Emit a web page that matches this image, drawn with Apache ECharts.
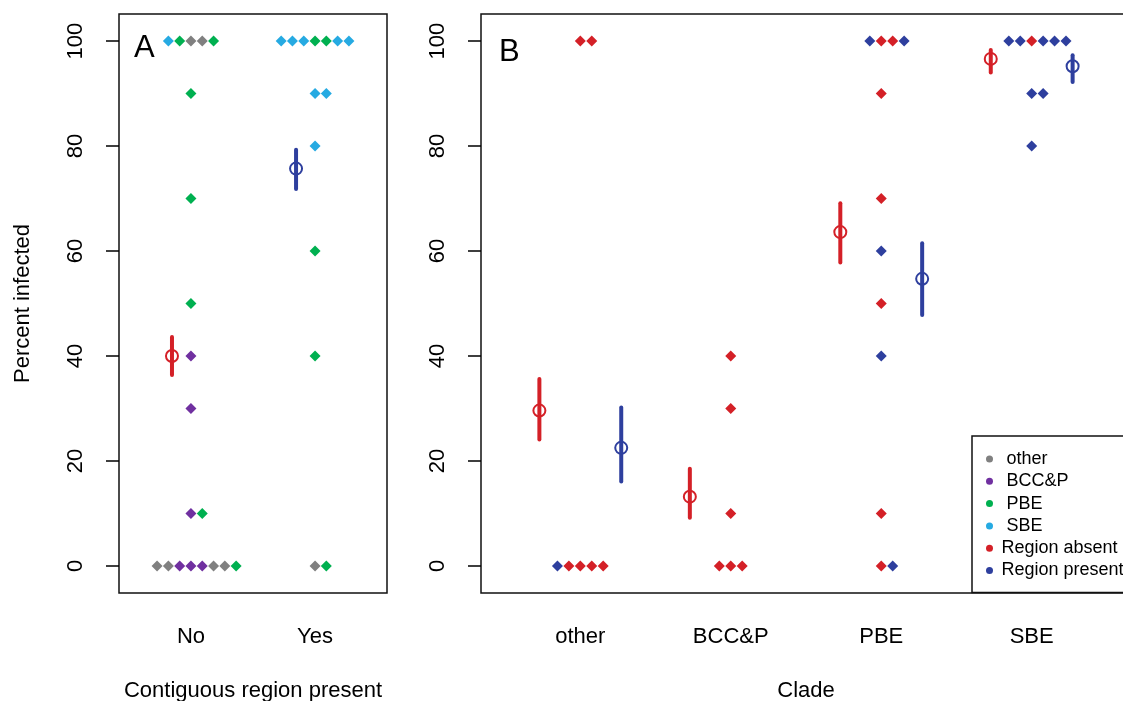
<!DOCTYPE html>
<html>
<head>
<meta charset="utf-8">
<script src="https://cdn.jsdelivr.net/npm/echarts@6/dist/echarts.min.js"></script>
<style>
  html, body { margin: 0; padding: 0; background: #fff; }
  #chart { width: 1123px; height: 701px; }
</style>
</head>
<body>
<div id="chart"></div>
<script>
// categories
var groupsA = ['No', 'Yes'];
var cladesB = ['other', 'BCC&P', 'PBE', 'SBE'];
var yTicks = [0, 20, 40, 60, 80, 100];

// panel A points: [group, percent, clades from left to right in the row]
var rowsA = [
  ['No', 100, ['SBE', 'PBE', 'other', 'other', 'PBE']],
  ['No', 90, ['PBE']],
  ['No', 70, ['PBE']],
  ['No', 50, ['PBE']],
  ['No', 40, ['BCC&P']],
  ['No', 30, ['BCC&P']],
  ['No', 10, ['BCC&P', 'PBE']],
  ['No', 0, ['other', 'other', 'BCC&P', 'BCC&P', 'BCC&P', 'other', 'other', 'PBE']],
  ['Yes', 100, ['SBE', 'SBE', 'SBE', 'PBE', 'PBE', 'SBE', 'SBE']],
  ['Yes', 90, ['SBE', 'SBE']],
  ['Yes', 80, ['SBE']],
  ['Yes', 60, ['PBE']],
  ['Yes', 40, ['PBE']],
  ['Yes', 0, ['other', 'PBE']]
];

// panel B points: [clade, percent, region (a = absent, p = present) left to right]
var rowsB = [
  ['other', 100, ['a', 'a']],
  ['other', 0, ['p', 'a', 'a', 'a', 'a']],
  ['BCC&P', 40, ['a']],
  ['BCC&P', 30, ['a']],
  ['BCC&P', 10, ['a']],
  ['BCC&P', 0, ['a', 'a', 'a']],
  ['PBE', 100, ['p', 'a', 'a', 'p']],
  ['PBE', 90, ['a']],
  ['PBE', 70, ['a']],
  ['PBE', 60, ['p']],
  ['PBE', 50, ['a']],
  ['PBE', 40, ['p']],
  ['PBE', 10, ['a']],
  ['PBE', 0, ['a', 'p']],
  ['SBE', 100, ['p', 'p', 'a', 'p', 'p', 'p']],
  ['SBE', 90, ['p', 'p']],
  ['SBE', 80, ['p']]
];

// estimates with intervals (panel A: No = red, Yes = blue)
var meanNo = [40.0], lowNo = [36.4], highNo = [43.6];
var meanYes = [null, 75.7], lowYes = [null, 71.8], highYes = [null, 79.3];

var meanAbsent = [29.6, 13.2, 63.6, 96.6];
var lowAbsent = [24.1, 9.2, 57.8, 94.0];
var highAbsent = [35.6, 18.5, 69.1, 98.3];

var meanPresent = [22.5, null, 54.7, 95.2];
var lowPresent = [16.1, null, 47.8, 92.2];
var highPresent = [30.2, null, 61.5, 97.3];

var cladeColors = { 'other': '#808080', 'BCC&P': '#7030A0', 'PBE': '#00B050', 'SBE': '#26AAE2' };
var RED = '#D42027', BLUE = '#2E3F9E';
var FONT = 'Liberation Sans, Arial, sans-serif';

// stack the points of one row side by side (beeswarm-like)
function swarm(rows, cats, step) {
  var out = {};
  rows.forEach(function (r) {
    var xc = cats.indexOf(r[0]) + 1;
    var n = r[2].length;
    var start = -Math.floor((n - 1) / 2);
    r[2].forEach(function (k, i) {
      (out[k] = out[k] || []).push([xc + (start + i) * step, r[1]]);
    });
  });
  return out;
}

var ptsA = swarm(rowsA, groupsA, 0.091);
var ptsB = swarm(rowsB, cladesB, 0.076);

function meanData(means, shift) {
  var d = [];
  means.forEach(function (m, i) { if (m != null) d.push([i + 1 + shift, m]); });
  return d;
}
function barData(means, lows, highs, shift) {
  var d = [];
  means.forEach(function (m, i) { if (m != null) d.push([i + 1 + shift, lows[i], highs[i]]); });
  return d;
}

function errBar(color) {
  return function (params, api) {
    var p1 = api.coord([api.value(0), api.value(1)]);
    var p2 = api.coord([api.value(0), api.value(2)]);
    return {
      type: 'line',
      shape: { x1: p1[0], y1: p1[1], x2: p2[0], y2: p2[1] },
      style: { stroke: color, lineWidth: 4, lineCap: 'round' }
    };
  };
}

function yAxisFor(gi) {
  return {
    type: 'value', gridIndex: gi, min: -5.15, max: 105.15,
    axisLine: { show: false },
    splitLine: { show: false },
    axisTick: { show: true, length: 13, customValues: yTicks, lineStyle: { color: '#000', width: 1.5 } },
    axisLabel: { customValues: yTicks, rotate: 90, margin: 32, fontSize: 22, color: '#000', fontFamily: FONT }
  };
}

function xAxisFor(gi, cats, min, max, name) {
  return {
    type: 'value', gridIndex: gi, min: min, max: max,
    name: name, nameLocation: 'middle', nameGap: 87,
    nameTextStyle: { fontSize: 22, color: '#000', fontFamily: FONT },
    axisLine: { show: false },
    splitLine: { show: false },
    axisTick: { show: false },
    axisLabel: {
      customValues: cats.map(function (c, i) { return i + 1; }),
      formatter: function (v) { return cats[Math.round(v) - 1]; },
      margin: 33, fontSize: 22, color: '#000', fontFamily: FONT
    }
  };
}

var series = [];
['other', 'BCC&P', 'PBE', 'SBE'].forEach(function (k) {
  series.push({
    name: k, type: 'scatter', xAxisIndex: 0, yAxisIndex: 0,
    symbol: 'diamond', symbolSize: 11, itemStyle: { color: cladeColors[k], opacity: 1 },
    data: ptsA[k] || [], silent: true, z: 3
  });
});
series.push({
  name: 'Region absent', type: 'scatter', xAxisIndex: 1, yAxisIndex: 1,
  symbol: 'diamond', symbolSize: 11, itemStyle: { color: RED, opacity: 1 },
  data: ptsB['a'], silent: true, z: 3
});
series.push({
  name: 'Region present', type: 'scatter', xAxisIndex: 1, yAxisIndex: 1,
  symbol: 'diamond', symbolSize: 11, itemStyle: { color: BLUE, opacity: 1 },
  data: ptsB['p'], silent: true, z: 3
});

// error bars + open mean circles
function addMeans(xi, means, lows, highs, shift, color) {
  series.push({
    type: 'custom', xAxisIndex: xi, yAxisIndex: xi, silent: true, z: 4,
    renderItem: errBar(color), encode: { x: 0, y: [1, 2] },
    data: barData(means, lows, highs, shift)
  });
  series.push({
    type: 'scatter', xAxisIndex: xi, yAxisIndex: xi, silent: true, z: 5,
    symbol: 'circle', symbolSize: 12,
    itemStyle: { color: 'rgba(0,0,0,0)', borderColor: color, borderWidth: 2, opacity: 1 },
    data: meanData(means, shift)
  });
}
addMeans(0, meanNo, lowNo, highNo, -0.153, RED);
addMeans(0, meanYes, lowYes, highYes, -0.153, BLUE);
addMeans(1, meanAbsent, lowAbsent, highAbsent, -0.272, RED);
addMeans(1, meanPresent, lowPresent, highPresent, 0.272, BLUE);

var option = {
  backgroundColor: '#fff',
  animation: false,
  textStyle: { fontFamily: FONT },
  title: [
    { text: 'A', left: 129, top: 28, textStyle: { fontSize: 31, fontWeight: 'normal', color: '#000', fontFamily: FONT } },
    { text: 'B', left: 494, top: 32, textStyle: { fontSize: 31, fontWeight: 'normal', color: '#000', fontFamily: FONT } }
  ],
  grid: [
    { left: 119, top: 14, width: 268, height: 579, show: true, borderColor: '#111', borderWidth: 1.5, outerBoundsMode: 'none' },
    { left: 481, top: 14, width: 650, height: 579, show: true, borderColor: '#111', borderWidth: 1.5, outerBoundsMode: 'none' }
  ],
  xAxis: [
    xAxisFor(0, groupsA, 0.42, 2.58, 'Contiguous region present'),
    xAxisFor(1, cladesB, 0.34, 4.66, 'Clade')
  ],
  yAxis: [
    Object.assign(yAxisFor(0), {
      name: 'Percent infected', nameLocation: 'middle', nameGap: 85, nameRotate: 90,
      nameTextStyle: { fontSize: 22, color: '#000', fontFamily: FONT }
    }),
    yAxisFor(1)
  ],
  legend: {
    orient: 'vertical', left: 972, top: 436,
    data: ['other', 'BCC&P', 'PBE', 'SBE', 'Region absent', 'Region present'].map(function (n) {
      return { name: n, icon: 'circle' };
    }),
    formatter: function (n) { return n.indexOf('Region') === 0 ? n : ' ' + n; },
    itemWidth: 14, itemHeight: 7, itemGap: 4.3,
    padding: [14, 12, 13, 14],
    borderColor: '#111', borderWidth: 1.5,
    selectedMode: false,
    textStyle: { fontSize: 18, lineHeight: 18, color: '#000', fontFamily: FONT }
  },
  series: series
};

var chart = echarts.init(document.getElementById('chart'), null, { renderer: 'canvas' });
chart.setOption(option);
</script>
</body>
</html>
